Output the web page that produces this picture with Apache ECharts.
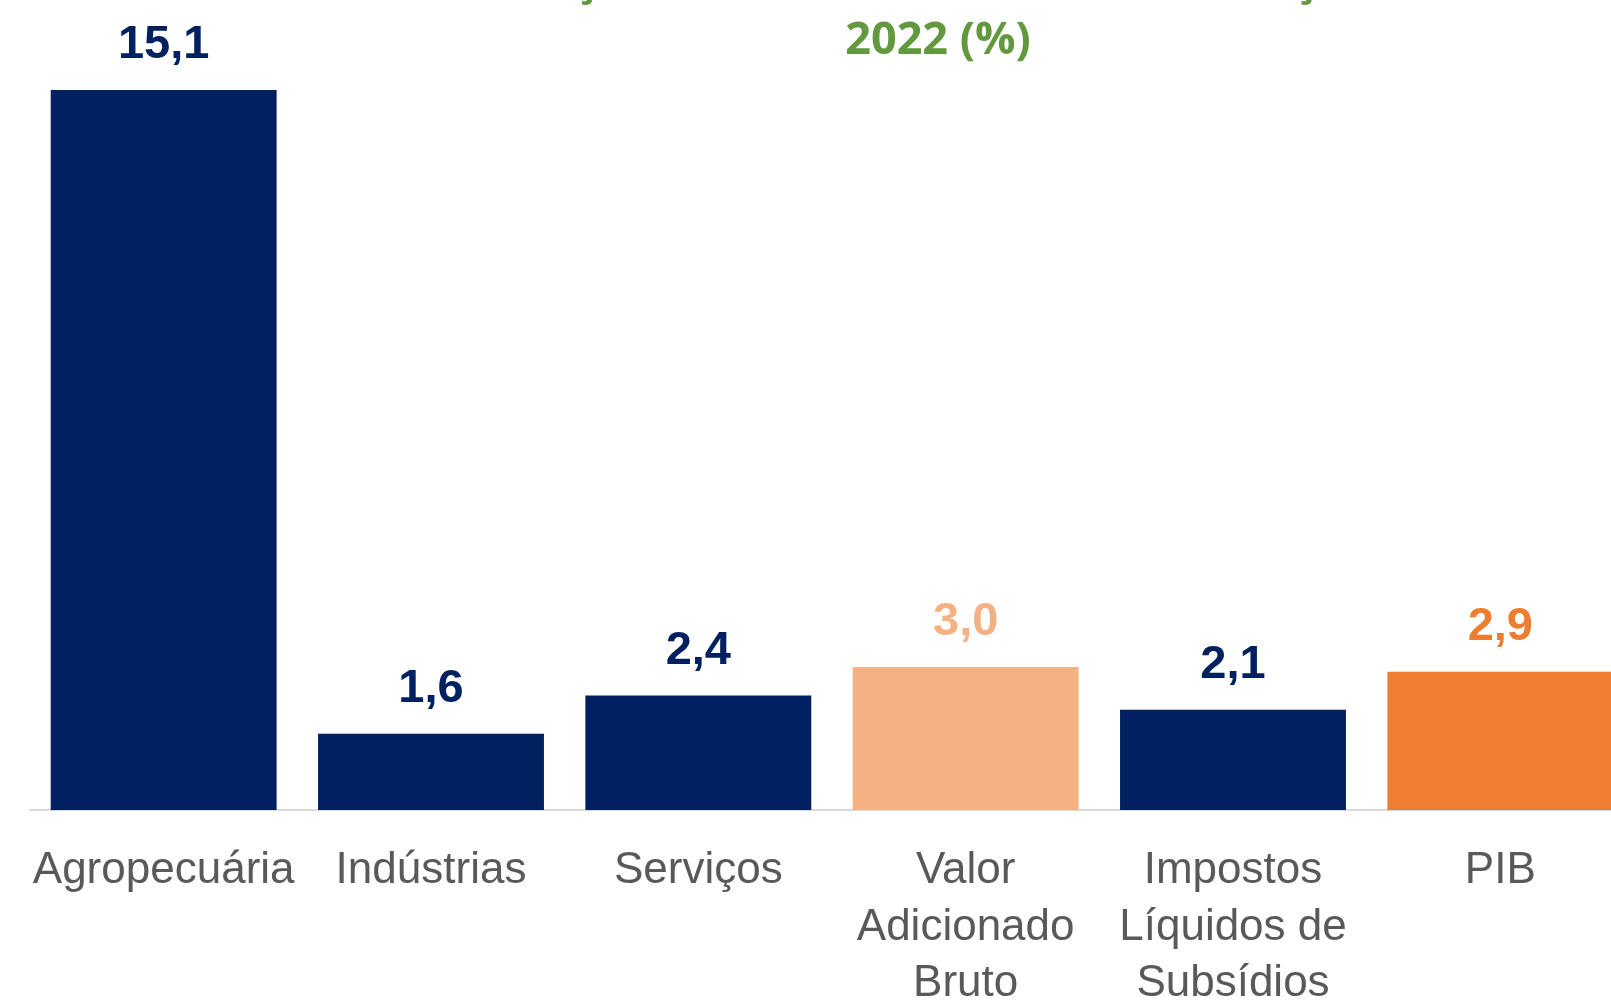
<!DOCTYPE html>
<html>
<head>
<meta charset="utf-8">
<script src="https://cdn.jsdelivr.net/npm/echarts@6/dist/echarts.min.js"></script>
<style>
html,body{margin:0;padding:0;background:#fff;}
#c{width:1611px;height:1000px;}
</style>
</head>
<body>
<div id="c"></div>
<script>
const categories = ['Agropecuária', 'Indústrias', 'Serviços', 'Valor\nAdicionado\nBruto', 'Impostos\nLíquidos de\nSubsídios', 'PIB'];
const values = [15.1, 1.6, 2.4, 3.0, 2.1, 2.9];
const barColors = ['#002060', '#002060', '#002060', '#F4B183', '#002060', '#ED7D31'];
const labelColors = ['#002060', '#002060', '#002060', '#F4B183', '#002060', '#ED7D31'];
const titleText = 'Taxa de variação do PIB e dos setores em relação ao ano de\n2022 (%)';

const chart = echarts.init(document.getElementById('c'), null, {renderer: 'canvas'});
chart.setOption({
  animation: false,
  backgroundColor: '#ffffff',
  title: {
    text: titleText,
    left: 938,
    top: -49,
    textAlign: 'center',
    padding: 0,
    textStyle: {
      fontFamily: 'Open Sans',
      fontWeight: 'bold',
      fontSize: 45,
      lineHeight: 60,
      color: '#62993E'
    }
  },
  grid: {left: 30, width: 1604, top: 47, bottom: 190, containLabel: false, outerBoundsMode: 'none'},
  xAxis: {
    type: 'category',
    data: categories,
    axisTick: {show: false},
    axisLine: {show: true, lineStyle: {color: '#D9D9D9', width: 2}},
    axisLabel: {
      interval: 0,
      margin: 33,
      fontFamily: 'Liberation Sans, Arial, sans-serif',
      fontSize: 44,
      lineHeight: 56.5,
      color: '#595959'
    }
  },
  yAxis: {
    type: 'value',
    min: 0,
    max: 16,
    show: false,
    splitLine: {show: false}
  },
  series: [{
    type: 'bar',
    barCategoryGap: '15.5%',
    data: values.map((v, i) => ({
      value: v,
      itemStyle: {color: barColors[i]},
      label: {color: labelColors[i]}
    })),
    label: {
      show: true,
      position: 'top',
      distance: 21,
      fontFamily: 'Liberation Sans, Arial, sans-serif',
      fontWeight: 'bold',
      fontSize: 47,
      lineHeight: 47,
      formatter: p => p.value.toFixed(1).replace('.', ',')
    }
  }]
});
</script>
</body>
</html>
